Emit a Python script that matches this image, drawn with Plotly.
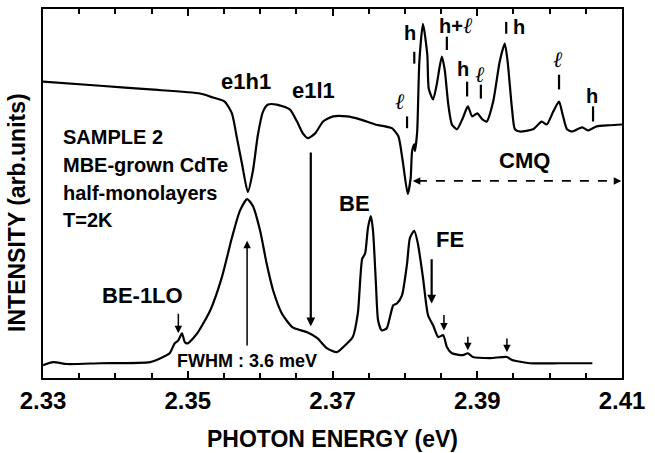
import plotly.graph_objects as go

# ---- data ----
# upper spectrum (reflectance-like)
energy_upper = [2.3300, 2.3379, 2.3448, 2.3517, 2.3535, 2.3551, 2.3561, 2.3568, 2.3575, 2.3583,
                2.3590, 2.3597, 2.3604, 2.3611, 2.3623, 2.3641, 2.3651, 2.3659, 2.3666, 2.3676,
                2.3687, 2.3701, 2.3720, 2.3738, 2.3759, 2.3782, 2.3791, 2.3797, 2.3804, 2.3808,
                2.3810, 2.3813, 2.3814, 2.3817, 2.3820, 2.3825, 2.3831, 2.3833, 2.3839, 2.3844,
                2.3851, 2.3855, 2.3860, 2.3865, 2.3872, 2.3880, 2.3887, 2.3893, 2.3900, 2.3907,
                2.3913, 2.3922, 2.3931, 2.3938, 2.3942, 2.3948, 2.3952, 2.3959, 2.3977, 2.3989,
                2.3996, 2.4005, 2.4013, 2.4018, 2.4024, 2.4031, 2.4045, 2.4053, 2.4065, 2.4083,
                2.4100]
intensity_upper = [80.3, 79.2, 78.2, 77.1, 76.0, 74.9, 71.7, 65.0, 58.0, 50.4,
                   56.1, 66.0, 72.2, 74.1, 74.1, 72.8, 69.5, 66.3, 65.0, 66.3,
                   69.5, 70.9, 70.9, 70.1, 68.7, 67.7, 65.5, 58.8, 49.9, 54.2,
                   61.5, 63.3, 61.5, 66.8, 85.7, 96.0, 87.6, 78.4, 75.5, 79.5,
                   87.1, 83.6, 74.1, 68.7, 67.4, 70.4, 73.6, 70.9, 71.7, 70.1,
                   69.5, 74.9, 85.7, 90.6, 85.7, 73.0, 67.4, 66.8, 67.4, 69.5,
                   68.7, 72.2, 74.9, 71.4, 67.4, 66.8, 67.9, 67.1, 68.2, 68.5,
                   68.7]

# lower spectrum (photoluminescence)
energy_lower = [2.3300, 2.3314, 2.3333, 2.3379, 2.3448, 2.3466, 2.3475, 2.3482, 2.3487, 2.3492,
                2.3496, 2.3500, 2.3513, 2.3531, 2.3547, 2.3561, 2.3572, 2.3582, 2.3590, 2.3600,
                2.3609, 2.3618, 2.3630, 2.3645, 2.3665, 2.3679, 2.3692, 2.3706, 2.3715, 2.3728,
                2.3735, 2.3741, 2.3745, 2.3749, 2.3753, 2.3756, 2.3760, 2.3763, 2.3768, 2.3775,
                2.3779, 2.3784, 2.3789, 2.3796, 2.3803, 2.3807, 2.3813, 2.3818, 2.3825, 2.3832,
                2.3839, 2.3846, 2.3853, 2.3858, 2.3865, 2.3880, 2.3887, 2.3894, 2.3918, 2.3941,
                2.3948, 2.3973, 2.4014, 2.4059]
intensity_lower = [3.5, 4.3, 3.8, 4.0, 4.3, 5.7, 6.7, 9.4, 10.2, 12.1,
                   9.7, 9.4, 12.1, 18.3, 27.2, 38.0, 45.3, 48.5, 46.6, 39.9,
                   31.0, 23.7, 17.5, 13.7, 12.4, 10.8, 8.1, 7.0, 8.4, 11.1,
                   17.5, 32.3, 33.7, 40.7, 43.9, 39.9, 25.6, 15.6, 12.9, 13.5,
                   16.2, 19.7, 20.2, 22.4, 31.0, 38.0, 39.9, 36.4, 27.2, 17.0,
                   14.3, 11.1, 11.6, 8.4, 6.7, 6.2, 6.7, 5.7, 5.4, 5.7,
                   4.9, 4.0, 4.0, 4.0]

x_tick_vals = [2.33, 2.35, 2.37, 2.39, 2.41]
x_tick_text = ["2.33", "2.35", "2.37", "2.39", "2.41"]

# ---- figure ----
BOLD = "Liberation Sans"
fig = go.Figure()
line_style = dict(color="black", width=2.2, shape="spline", smoothing=0.6)
fig.add_trace(go.Scatter(x=energy_upper, y=intensity_upper, mode="lines", line=line_style,
                         showlegend=False, hoverinfo="skip"))
fig.add_trace(go.Scatter(x=energy_lower, y=intensity_lower, mode="lines", line=line_style,
                         showlegend=False, hoverinfo="skip"))

ann = []

def text(x, y, s, size=22, anchor="center", font=BOLD, weight="bold"):
    ann.append(dict(x=x, y=y, xref="x", yref="y", text=s, showarrow=False,
                    xanchor=anchor, yanchor="middle",
                    font=dict(family=font, size=size, color="black", weight=weight)))

def arrow(x, y_tail, y_tip, width=1.5, size=1.0):
    ann.append(dict(x=x, y=y_tip, ax=x, ay=y_tail, xref="x", yref="y", axref="x", ayref="y",
                    text="", showarrow=True, arrowhead=2, arrowsize=size, arrowwidth=width,
                    arrowcolor="black", standoff=0, startstandoff=0))

# main labels
text(2.3580, 80.3, "e1h1")
text(2.3674, 77.9, "e1l1")
for yy, s in [(65.4, "SAMPLE 2"), (57.7, "MBE-grown CdTe"), (50.1, "half-monolayers"), (42.9, "T=2K")]:
    text(2.3325, yy, s, size=20, anchor="left")
text(2.3438, 22.4, "BE-1LO")
text(2.3731, 47.4, "BE")
text(2.3862, 37.5, "FE")
text(2.3965, 59.0, "CMQ")
text(2.3582, 4.6, "FWHM : 3.6 meV", size=18)

# h / l labels on upper curve
ELL = "DejaVu Serif"
ELL_SIZE = 22
text(2.3793, 74.8, "<i>ℓ</i>", size=ELL_SIZE, font=ELL, weight="normal")
text(2.3807, 93.5, "h", size=20)
ann.append(dict(x=2.3871, y=95.4, xref="x", yref="y", showarrow=False,
                text="h+<span style='font-family:DejaVu Serif;font-weight:normal;font-size:22px'><i>ℓ</i></span>",
                font=dict(family=BOLD, size=20, color="black", weight="bold")))
text(2.3880, 83.8, "h", size=20)
text(2.3904, 82.2, "<i>ℓ</i>", size=ELL_SIZE, font=ELL, weight="normal")
text(2.3957, 95.1, "h", size=20)
text(2.4012, 86.4, "<i>ℓ</i>", size=ELL_SIZE, font=ELL, weight="normal")
text(2.4059, 76.5, "h", size=20)

shapes = []
for xx, y0, y1 in [(2.3803, 70.9, 67.7), (2.3813, 88.4, 85.2), (2.3858, 92.5, 88.9),
                   (2.3886, 80.3, 76.3), (2.3905, 79.5, 75.7), (2.3940, 96.5, 93.3),
                   (2.4013, 82.2, 78.2), (2.4060, 73.6, 69.5)]:
    shapes.append(dict(type="line", xref="x", yref="y", x0=xx, x1=xx, y0=y0, y1=y1,
                       line=dict(color="black", width=2.2)))

# CMQ dashed double arrow
shapes.append(dict(type="line", xref="x", yref="y", x0=2.3818, x1=2.4095, y0=53.4, y1=53.4,
                   line=dict(color="black", width=1.8, dash="dash")))
for tip, tail in [(2.3811, 2.3822), (2.4099, 2.4088)]:
    ann.append(dict(x=tip, y=53.4, ax=tail, ay=53.4, xref="x", yref="y", axref="x", ayref="y",
                    text="", showarrow=True, arrowhead=2, arrowsize=1, arrowwidth=1.5,
                    arrowcolor="black", standoff=0))

# arrows
arrow(2.3670, 61.5, 14.0, width=2.2, size=0.8)
arrow(2.3582, 8.4, 37.2, width=1.5)
arrow(2.3837, 32.6, 20.2, width=2.2, size=0.8)
arrow(2.3487, 17.8, 12.1, width=1.5)
arrow(2.3854, 17.5, 12.9, width=1.5)
arrow(2.3887, 11.6, 7.5, width=1.5)
arrow(2.3941, 11.1, 7.0, width=1.5)

# axis titles as annotations
ann.append(dict(x=0.5, y=-0.165, xref="paper", yref="paper", showarrow=False,
                text="PHOTON ENERGY (eV)", xanchor="center", yanchor="middle",
                font=dict(family=BOLD, size=23, color="black", weight="bold")))
ann.append(dict(x=-0.045, y=0.45, xref="paper", yref="paper", showarrow=False,
                text="INTENSITY (arb.units)", textangle=-90, xanchor="center", yanchor="middle",
                font=dict(family=BOLD, size=23, color="black", weight="bold")))

fig.update_layout(
    width=655, height=453,
    margin=dict(l=43, r=33, t=7, b=75),
    paper_bgcolor="white", plot_bgcolor="white",
    annotations=ann, shapes=shapes,
    xaxis=dict(range=[2.33, 2.41], tickvals=x_tick_vals, ticktext=x_tick_text,
               ticks="inside", ticklen=7, tickwidth=2, tickcolor="black",
               minor=dict(dtick=0.005, tick0=2.33, ticks="inside", ticklen=5, tickwidth=1.5,
                          tickcolor="black"),
               showline=True, linecolor="black", linewidth=2, mirror="ticks",
               showgrid=False, zeroline=False,
               tickfont=dict(family=BOLD, size=24, color="black", weight="bold")),
    yaxis=dict(range=[0, 100], showticklabels=False, ticks="", showline=True,
               linecolor="black", linewidth=2, mirror=True, showgrid=False, zeroline=False),
)

fig.write_html("out.html")
